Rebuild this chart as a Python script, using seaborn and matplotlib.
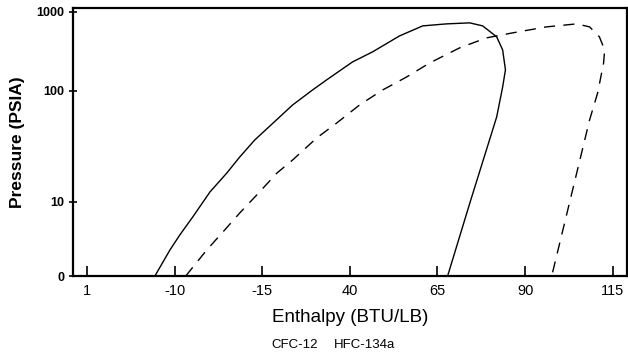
import numpy as np
import pandas as pd
import matplotlib
matplotlib.use('Agg')
import matplotlib.pyplot as plt
import seaborn as sns

# -----------------------------------------------------------
# Data (enthalpy in BTU/LB, pressure in PSIA)
# -----------------------------------------------------------
cfc12_h = [-34.7, -15.6, -11.3, -8.5, -4.8, 0.1, 4.9, 8.6, 12.9, 20.0, 23.7,
           29.4, 33.4, 40.8, 46.5, 54.2, 60.8, 67.6, 74.2, 77.9, 81.9, 83.6,
           84.4, 83.6, 81.9, 74.5, 67.9]
cfc12_p = [1, 1, 2.25, 3.58, 6.27, 12.3, 18.2, 25.4, 36.2, 58.3, 74.8,
           103, 138, 233, 312, 497, 665, 705, 726, 665, 483, 330,
           185, 112, 58.3, 10.4, 1]

hfc134a_h = [-6.8, -0.8, 3.8, 8.6, 13.5, 19.2, 23.7, 30.6, 36.3, 42.8, 49.4,
             56.2, 62.8, 71.3, 79.0, 86.4, 96.1, 104.7, 108.4, 111.2, 112.7,
             112.4, 110.7, 108.4, 97.6]
hfc134a_p = [1, 2.25, 3.93, 7.1, 11.6, 18.2, 23.9, 37.8, 51.5, 74.8, 103,
             150, 226, 350, 469, 542, 646, 705, 646, 483, 330,
             226, 96, 54.8, 1]

x_ticks = [-35, -10, 15, 40, 65, 90, 115]
x_labels = ['1', '-10', '-15', '40', '65', '90', '115']
y_ticks = [1, 10, 100, 1000]
y_labels = ['0', '10', '100', '1000']

df = pd.concat([
    pd.DataFrame({'Enthalpy': cfc12_h, 'Pressure': cfc12_p, 'Refrigerant': 'CFC-12'}),
    pd.DataFrame({'Enthalpy': hfc134a_h, 'Pressure': hfc134a_p, 'Refrigerant': 'HFC-134a'}),
], ignore_index=True)

# uneven decade spacing of the original pressure axis
dec_log = [-1, 0, 1, 2, 3, 4]
dec_pos = [-74, 0, 74, 185, 264, 343]

def fwd(p):
    p = np.clip(np.asarray(p, dtype=float), 1e-6, None)
    return np.interp(np.log10(p), dec_log, dec_pos)

def inv(v):
    return 10 ** np.interp(np.asarray(v, dtype=float), dec_pos, dec_log)

# -----------------------------------------------------------
# Plot
# -----------------------------------------------------------
sns.set_style('ticks')
plt.rcParams['font.family'] = ['Liberation Sans', 'DejaVu Sans']
plt.rcParams['text.color'] = 'black'
plt.rcParams['axes.labelcolor'] = 'black'

fig = plt.figure(figsize=(6.28, 3.58), dpi=100)
ax = fig.add_axes([0.116, 0.229, 0.882, 0.749])
ax.set_yscale('function', functions=(fwd, inv))

sns.lineplot(data=df, x='Enthalpy', y='Pressure', hue='Refrigerant',
             style='Refrigerant', estimator=None, sort=False,
             palette={'CFC-12': 'black', 'HFC-134a': 'black'},
             dashes={'CFC-12': '', 'HFC-134a': (8, 6)},
             linewidth=1.0, ax=ax)

ax.set_xlim(-39, 119)
ax.set_ylim(1, inv(268))
ax.set_xticks(x_ticks)
ax.set_xticklabels(x_labels, fontsize=10.5)
ax.set_yticks(y_ticks)
ax.set_yticklabels(y_labels, fontsize=9, fontweight='bold')
ax.minorticks_off()
ax.tick_params(axis='x', direction='in', length=7, width=1.2, pad=6, colors='black')
ax.tick_params(axis='y', direction='inout', length=6, width=1.2, pad=3, colors='black')

for s in ax.spines.values():
    s.set_visible(True)
    s.set_linewidth(1.6)
    s.set_color('black')

ax.set_xlabel('Enthalpy (BTU/LB)', fontsize=13.5, labelpad=8)
ax.set_ylabel('Pressure (PSIA)', fontsize=12.5, fontweight='bold', labelpad=8)

handles, labels = ax.get_legend_handles_labels()
ax.legend(handles, labels, loc='center', bbox_to_anchor=(0.47, -0.255),
          ncol=2, frameon=False, handlelength=0, handletextpad=0,
          columnspacing=1.2, fontsize=9.5)

fig.savefig('out.png', dpi=100)
